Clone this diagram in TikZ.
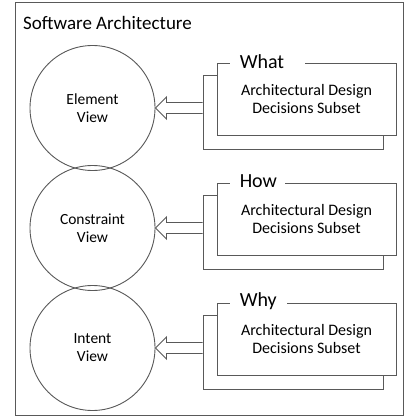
\documentclass[tikz,border=0pt]{standalone}
\usepackage{fontspec}
\setmainfont{Carlito}
\usetikzlibrary{calc}
\begin{document}
\begin{tikzpicture}[x=1pt,y=-1pt,
  edge/.style={draw=black!65, line width=0.9pt},
  viewnode/.style={circle, edge, minimum size=125pt, inner sep=0pt, align=center,
    font=\fontsize{15.5}{18}\selectfont},
  backbox/.style={rectangle, edge, fill=white, minimum width=180pt, minimum height=74pt, inner sep=0pt},
  frontbox/.style={rectangle, edge, fill=white, minimum width=179pt, minimum height=72pt,
    inner sep=0pt, align=center, font=\fontsize{16}{18}\selectfont},
  tag/.style={fill=white, inner xsep=0pt, inner ysep=1pt, anchor=west,
    font=\fontsize{20}{22}\selectfont},
  hollow/.style={edge, line join=miter}]
  \useasboundingbox (0,0) rectangle (404,417);

  % outer frame and title
  \draw[edge] (15,2) rectangle (403,415);
  \node[anchor=base west, inner sep=0pt, font=\fontsize{19}{22}\selectfont] (title) at (23,30) {Software Architecture};

  \foreach \k/\lab/\vname/\pad in {0/What/Element/21, 1/How/Constraint/8, 2/Why/Intent/10} {
    % view circle
    \node[viewnode] (c\k) at (92.5,108+120*\k) {\vname\\View};
    % stacked decision boxes
    \node[backbox] (b\k) at (293,112+120*\k) {};
    \node[frontbox] (f\k) at (306.5,99+120*\k) {Architectural Design\\Decisions Subset};
    % heading that interrupts the top edge
    \node[tag] (t\k) at ($(f\k.north west)+(13,-1)$) {\hspace*{10pt}\lab\hspace*{\pad pt}};
    % hollow arrow from the box stack to the view
    \draw[hollow]
      ($(b\k.west |- c\k.east)+(0,-5.5)$) -- ($(c\k.east)+(11,-5.5)$) --
      ($(c\k.east)+(11,-11)$) -- (c\k.east) -- ($(c\k.east)+(11,11)$) --
      ($(c\k.east)+(11,5.5)$) -- ($(b\k.west |- c\k.east)+(0,5.5)$);
  }
\end{tikzpicture}
\end{document}
